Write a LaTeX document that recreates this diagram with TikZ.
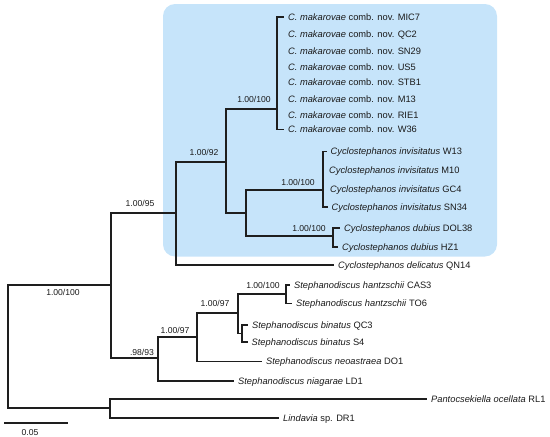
\documentclass[tikz,border=0pt]{standalone}
\usepackage{fontspec}
\setmainfont{Liberation Sans}
\definecolor{boxblue}{RGB}{198,228,250}
\definecolor{linec}{RGB}{30,30,30}
\definecolor{txt}{RGB}{26,26,26}
\begin{document}
\begin{tikzpicture}[x=1pt,y=-1pt,
  br/.style={line width=1.05pt, draw=linec, line cap=rect},
  brk/.style={line width=1.9pt, draw=linec},
  leaf/.style={anchor=west, inner xsep=4.5pt, inner ysep=0pt, text height=6.6pt, text depth=0pt, font=\fontsize{9.3}{11}\selectfont, text=txt},
  supp/.style={inner sep=0pt, text height=6.2pt, text depth=0pt, font=\fontsize{8.6}{10}\selectfont, text=txt}]
\useasboundingbox (0,0) rectangle (550,437);
% highlight box
\fill[boxblue, rounded corners=12pt] (163,4) rectangle (497,256.5);
% internal nodes (attach points)
\coordinate (R) at (8,346.5);
\coordinate (A) at (111,285);
\coordinate (B) at (176,213);
\coordinate (C) at (226,162);
\coordinate (D) at (277,109);
\coordinate (E) at (246,213);
\coordinate (F) at (323,190);
\coordinate (G) at (333,236);
\coordinate (H) at (158,358);
\coordinate (I) at (197,337);
\coordinate (J) at (238,313);
\coordinate (K) at (286,294);
\coordinate (L) at (242,333.5);
\coordinate (M) at (110,408);
% leaves
\node[leaf] (MIC7) at (283.5,17) {\textit{C. makarovae} comb. nov. MIC7};
\node[leaf] (QC2) at (283.5,34) {\textit{C. makarovae} comb. nov. QC2};
\node[leaf] (SN29) at (283.5,51.5) {\textit{C. makarovae} comb. nov. SN29};
\node[leaf] (US5) at (283.5,67) {\textit{C. makarovae} comb. nov. US5};
\node[leaf] (STB1) at (283.5,82.5) {\textit{C. makarovae} comb. nov. STB1};
\node[leaf] (M13) at (283.5,99) {\textit{C. makarovae} comb. nov. M13};
\node[leaf] (RIE1) at (283.5,115.5) {\textit{C. makarovae} comb. nov. RIE1};
\node[leaf] (W36) at (283.5,129.5) {\textit{C. makarovae} comb. nov. W36};
\node[leaf] (W13) at (326,151.5) {\textit{Cyclostephanos invisitatus} W13};
\node[leaf] (M10) at (324.5,170) {\textit{Cyclostephanos invisitatus} M10};
\node[leaf] (GC4) at (325.5,189) {\textit{Cyclostephanos invisitatus} GC4};
\node[leaf] (SN34) at (327,207) {\textit{Cyclostephanos invisitatus} SN34};
\node[leaf] (DOL38) at (339.5,228) {\textit{Cyclostephanos dubius} DOL38};
\node[leaf] (HZ1) at (337.5,247) {\textit{Cyclostephanos dubius} HZ1};
\node[leaf] (QN14) at (333.5,265) {\textit{Cyclostephanos delicatus} QN14};
\node[leaf] (CAS3) at (289.5,285) {\textit{Stephanodiscus hantzschii} CAS3};
\node[leaf] (TO6) at (291.5,303.5) {\textit{Stephanodiscus hantzschii} TO6};
\node[leaf] (QC3) at (247.5,325) {\textit{Stephanodiscus binatus} QC3};
\node[leaf] (S4) at (247,342) {\textit{Stephanodiscus binatus} S4};
\node[leaf] (DO1) at (261.5,361.5) {\textit{Stephanodiscus neoastraea} DO1};
\node[leaf] (LD1) at (233.5,381) {\textit{Stephanodiscus niagarae} LD1};
\node[leaf] (RL1) at (426.5,399) {\textit{Pantocsekiella ocellata} RL1};
\node[leaf] (DR1) at (278.5,418) {\textit{Lindavia} sp. DR1};
% verticals
\draw[br] (R |- A) -- (R |- M);
\draw[br] (A |- B) -- (A |- H);
\draw[br] (B |- C) -- (B |- QN14.west);
\draw[br] (C |- D) -- (C |- E);
\draw[brk] (D |- MIC7.west) -- (D |- W36.west);
\draw[br] (E |- F) -- (E |- G);
\draw[brk] (F |- W13.west) -- (F |- SN34.west);
\draw[brk] (G |- DOL38.west) -- (G |- HZ1.west);
\draw[br] (H |- I) -- (H |- LD1.west);
\draw[br] (I |- J) -- (I |- DO1.west);
\draw[br] (J |- K) -- (J |- L);
\draw[brk] (K |- CAS3.west) -- (K |- TO6.west);
\draw[brk] (L |- QC3.west) -- (L |- S4.west);
\draw[br] (M |- RL1.west) -- (M |- DR1.west);
% horizontals
\draw[br] (R |- A) -- (A);
\draw[br] (R |- M) -- (M);
\draw[br] (A |- B) -- (B);
\draw[br] (A |- H) -- (H);
\draw[br] (B |- C) -- (C);
\draw[br] (B |- QN14.west) -- (QN14.west);
\draw[br] (C |- D) -- (D);
\draw[br] (C |- E) -- (E);
\draw[br] (E |- F) -- (F);
\draw[br] (E |- G) -- (G);
\draw[br] (H |- I) -- (I);
\draw[br] (H |- LD1.west) -- (LD1.west);
\draw[br] (I |- J) -- (J);
\draw[br] (I |- DO1.west) -- (DO1.west);
\draw[br] (J |- K) -- (K);
\draw[br] (J |- L) -- (L);
\draw[br] (M |- RL1.west) -- (RL1.west);
\draw[br] (M |- DR1.west) -- (DR1.west);
% terminal ticks
\draw[br] (D |- MIC7.west) -- (MIC7.west);
\draw[br] (D |- W36.west) -- (W36.west);
\draw[br] (F |- W13.west) -- (W13.west);
\draw[br] (F |- SN34.west) -- (SN34.west);
\draw[br] (G |- DOL38.west) -- (DOL38.west);
\draw[br] (G |- HZ1.west) -- (HZ1.west);
\draw[br] (K |- CAS3.west) -- (CAS3.west);
\draw[br] (K |- TO6.west) -- (TO6.west);
\draw[br] (L |- QC3.west) -- (QC3.west);
\draw[br] (L |- S4.west) -- (S4.west);
% support values
\node[supp] (sA) at (63,292) {1.00/100};
\node[supp] (sB) at (140,203) {1.00/95};
\node[supp] (sC) at (204,152) {1.00/92};
\node[supp] (sD) at (254,99) {1.00/100};
\node[supp] (sF) at (298,182) {1.00/100};
\node[supp] (sG) at (309,228) {1.00/100};
\node[supp] (sK) at (263,285) {1.00/100};
\node[supp] (sJ) at (215,303) {1.00/97};
\node[supp] (sI) at (175,330) {1.00/97};
\node[supp] (sH) at (142,352) {.98/93};
% scale bar
\coordinate (sb1) at (5,423);
\coordinate (sb2) at (67,423);
\draw[br] (sb1) -- (sb2);
\node[supp] (sbl) at (30,432) {0.05};
\end{tikzpicture}
\end{document}
